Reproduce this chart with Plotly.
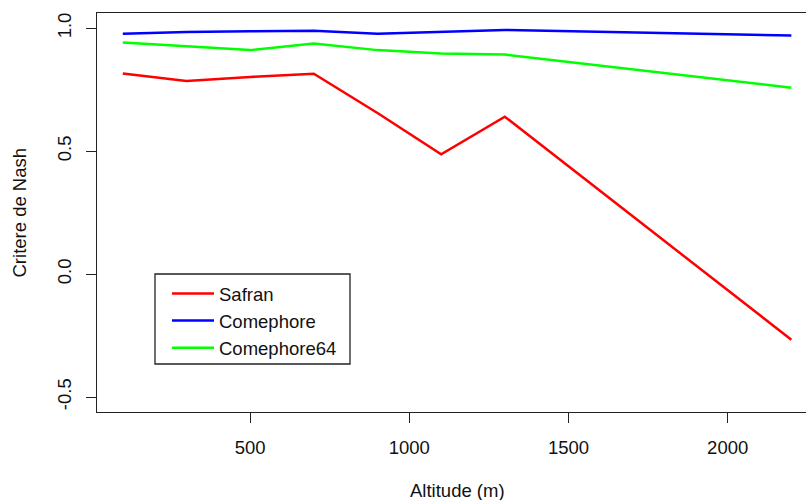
import plotly.graph_objects as go

# Altitude classes (m) and Nash criterion per rainfall product
altitude = [100, 300, 500, 700, 900, 1100, 1300, 2200]
safran = [0.816, 0.785, 0.802, 0.815, 0.655, 0.487, 0.640, -0.267]
comephore = [0.978, 0.985, 0.988, 0.990, 0.978, 0.984, 0.993, 0.970]
comephore64 = [0.942, 0.927, 0.911, 0.938, 0.911, 0.897, 0.893, 0.758]

series_names = ["Safran", "Comephore", "Comephore64"]
series_values = [safran, comephore, comephore64]
series_colors = ["#FF0000", "#0000FF", "#00FF00"]

x_ticks = [500, 1000, 1500, 2000]
y_ticks = [-0.5, 0.0, 0.5, 1.0]
y_tick_text = ["-0.5", "0.0", "0.5", "1.0"]

FONT = "Liberation Sans, Arial, Helvetica, sans-serif"
FS = 18.5

# plot area in pixels
L, T, W, H = 97, 13, 709, 399


def px_x(p):
    return (p - L) / W


def px_y(p):
    return (T + H - p) / H


fig = go.Figure()
for name, vals, col in zip(series_names, series_values, series_colors):
    fig.add_trace(go.Scatter(
        x=altitude, y=vals, mode="lines", name=name,
        line=dict(color=col, width=2.5),
    ))

fig.update_layout(
    width=806, height=500,
    margin=dict(l=L, r=806 - L - W, t=T, b=500 - T - H),
    paper_bgcolor="white", plot_bgcolor="white",
    font=dict(family=FONT, size=FS, color="#111"),
    showlegend=True,
    legend=dict(
        x=px_x(167), y=px_y(275),
        xanchor="left", yanchor="top",
        borderwidth=0, bgcolor="rgba(0,0,0,0)",
        font=dict(family=FONT, size=FS, color="#111"),
        itemwidth=42, tracegroupgap=0,
    ),
    xaxis=dict(
        range=[19, 2246], showgrid=False, zeroline=False,
        showline=True, linecolor="#222", linewidth=1.3, mirror=True,
        tickmode="array", tickvals=x_ticks,
        ticks="outside", ticklen=10, tickwidth=1.2, tickcolor="#222",
        ticklabelstandoff=9,
        tickfont=dict(family=FONT, size=FS, color="#111"),
    ),
    yaxis=dict(
        range=[-0.561, 1.062], showgrid=False, zeroline=False,
        showline=True, linecolor="#222", linewidth=1.3, mirror=False,
        tickmode="array", tickvals=y_ticks, ticktext=y_tick_text,
        ticks="outside", ticklen=10, tickwidth=1.2, tickcolor="#222",
        tickangle=-90, ticklabelstandoff=7,
        tickfont=dict(family=FONT, size=FS, color="#111"),
    ),
)

# legend frame
fig.add_shape(
    type="rect", xref="paper", yref="paper",
    x0=px_x(155), x1=px_x(350), y0=px_y(364), y1=px_y(274),
    line=dict(color="#222", width=1.3), fillcolor="rgba(0,0,0,0)", layer="above",
)

fig.add_annotation(
    text="Altitude (m)", xref="x", yref="paper", x=1150, y=px_y(490),
    showarrow=False, xanchor="center", yanchor="middle",
    font=dict(family=FONT, size=FS, color="#111"),
)
fig.add_annotation(
    text="Critere de Nash", xref="paper", yref="paper", x=px_x(19), y=0.5,
    showarrow=False, xanchor="center", yanchor="middle", textangle=-90,
    font=dict(family=FONT, size=FS, color="#111"),
)

fig.write_html("out.html")
